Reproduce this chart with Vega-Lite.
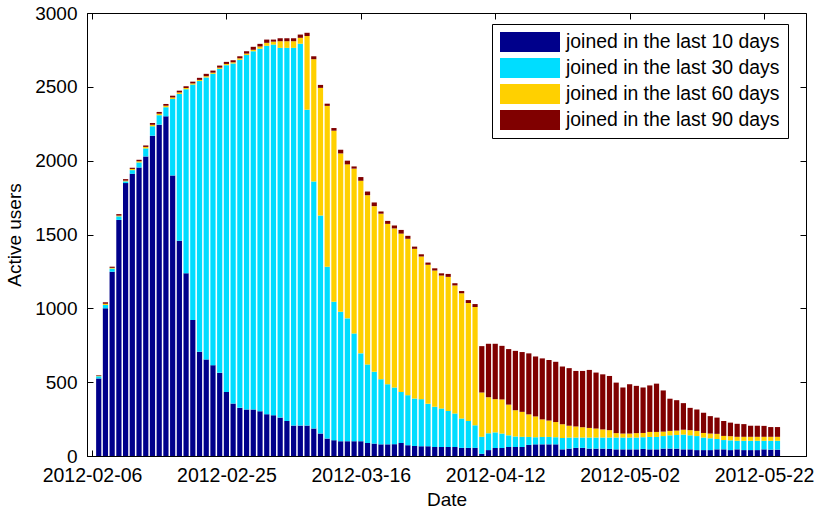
{
  "$schema": "https://vega.github.io/schema/vega-lite/v6.json",
  "autosize": "none",
  "width": 719,
  "height": 443,
  "padding": {"left": 87, "top": 13, "right": 14, "bottom": 57},
  "background": "white",
  "config": {
    "font": "Liberation Sans",
    "view": {"stroke": "black", "strokeWidth": 1},
    "axis": {
      "labelFontSize": 19, "titleFontSize": 19, "titleFontWeight": "normal",
      "labelColor": "black", "titleColor": "black", "domainColor": "black", "tickColor": "black",
      "grid": false, "tickSize": -6
    }
  },
  "data": {
    "values": [
      {"i":1,"a":525,"b":15,"c":3,"d":4},{"i":2,"a":1000,"b":23,"c":8,"d":10},{"i":3,"a":1248,"b":21,"c":5,"d":8},{"i":4,"a":1599,"b":24,"c":5,"d":10},
      {"i":5,"a":1848,"b":12,"c":5,"d":10},{"i":6,"a":1911,"b":25,"c":8,"d":8},{"i":7,"a":1954,"b":34,"c":8,"d":10},{"i":8,"a":2029,"b":54,"c":10,"d":10},
      {"i":9,"a":2169,"b":64,"c":10,"d":12},{"i":10,"a":2244,"b":64,"c":10,"d":12},{"i":11,"a":2300,"b":62,"c":10,"d":12},{"i":12,"a":1900,"b":518,"c":10,"d":12},
      {"i":13,"a":1457,"b":995,"c":10,"d":12},{"i":14,"a":1237,"b":1247,"c":8,"d":12},{"i":15,"a":921,"b":1594,"c":8,"d":12},{"i":16,"a":706,"b":1833,"c":8,"d":14},
      {"i":17,"a":654,"b":1910,"c":8,"d":16},{"i":18,"a":615,"b":1973,"c":8,"d":14},{"i":19,"a":563,"b":2059,"c":8,"d":14},{"i":20,"a":434,"b":2213,"c":8,"d":14},
      {"i":21,"a":355,"b":2303,"c":8,"d":14},{"i":22,"a":326,"b":2357,"c":10,"d":14},{"i":23,"a":315,"b":2400,"c":10,"d":16},{"i":24,"a":315,"b":2426,"c":10,"d":20},
      {"i":25,"a":303,"b":2455,"c":15,"d":18},{"i":26,"a":283,"b":2495,"c":20,"d":22},{"i":27,"a":276,"b":2510,"c":20,"d":14},{"i":28,"a":260,"b":2504,"c":45,"d":20},
      {"i":29,"a":237,"b":2527,"c":45,"d":20},{"i":30,"a":206,"b":2558,"c":45,"d":20},{"i":31,"a":206,"b":2586,"c":40,"d":22},{"i":32,"a":206,"b":2139,"c":499,"d":22},
      {"i":33,"a":186,"b":1673,"c":828,"d":20},{"i":34,"a":152,"b":1476,"c":865,"d":20},{"i":35,"a":118,"b":1164,"c":1089,"d":15},{"i":36,"a":107,"b":938,"c":1158,"d":18},
      {"i":37,"a":100,"b":877,"c":1072,"d":25},{"i":38,"a":100,"b":832,"c":1043,"d":25},{"i":39,"a":100,"b":730,"c":1116,"d":15},{"i":40,"a":100,"b":595,"c":1169,"d":25},
      {"i":41,"a":88,"b":532,"c":1146,"d":25},{"i":42,"a":84,"b":486,"c":1122,"d":25},{"i":43,"a":79,"b":441,"c":1121,"d":15},{"i":44,"a":79,"b":407,"c":1086,"d":20},
      {"i":45,"a":80,"b":384,"c":1077,"d":20},{"i":46,"a":88,"b":346,"c":1072,"d":25},{"i":47,"a":73,"b":339,"c":1059,"d":20},{"i":48,"a":68,"b":321,"c":1014,"d":15},
      {"i":49,"a":66,"b":319,"c":966,"d":15},{"i":50,"a":66,"b":287,"c":942,"d":15},{"i":51,"a":61,"b":272,"c":923,"d":15},{"i":52,"a":61,"b":261,"c":900,"d":15},
      {"i":53,"a":61,"b":244,"c":908,"d":20},{"i":54,"a":61,"b":227,"c":867,"d":15},{"i":55,"a":55,"b":199,"c":848,"d":15},{"i":56,"a":55,"b":182,"c":799,"d":20},
      {"i":57,"a":55,"b":153,"c":801,"d":20},{"i":58,"a":15,"b":115,"c":300,"d":314},{"i":59,"a":40,"b":114,"c":244,"d":362},{"i":60,"a":54,"b":106,"c":225,"d":375},
      {"i":61,"a":54,"b":98,"c":231,"d":363},{"i":62,"a":61,"b":79,"c":208,"d":376},{"i":63,"a":61,"b":71,"c":178,"d":402},{"i":64,"a":61,"b":69,"c":169,"d":405},
      {"i":65,"a":75,"b":54,"c":153,"d":413},{"i":66,"a":79,"b":48,"c":141,"d":406},{"i":67,"a":79,"b":50,"c":119,"d":413},{"i":68,"a":79,"b":50,"c":111,"d":410},
      {"i":69,"a":79,"b":48,"c":103,"d":408},{"i":70,"a":45,"b":77,"c":93,"d":391},{"i":71,"a":50,"b":75,"c":80,"d":390},{"i":72,"a":55,"b":70,"c":75,"d":376},
      {"i":73,"a":55,"b":70,"c":70,"d":381},{"i":74,"a":50,"b":75,"c":65,"d":393},{"i":75,"a":50,"b":75,"c":61,"d":379},{"i":76,"a":50,"b":75,"c":55,"d":373},
      {"i":77,"a":48,"b":77,"c":50,"d":367},{"i":78,"a":45,"b":80,"c":30,"d":342},{"i":79,"a":45,"b":80,"c":27,"d":312},{"i":80,"a":45,"b":80,"c":27,"d":334},
      {"i":81,"a":45,"b":80,"c":30,"d":320},{"i":82,"a":48,"b":79,"c":29,"d":308},{"i":83,"a":45,"b":84,"c":34,"d":315},{"i":84,"a":45,"b":84,"c":34,"d":327},
      {"i":85,"a":50,"b":85,"c":30,"d":279},{"i":86,"a":50,"b":90,"c":30,"d":218},{"i":87,"a":50,"b":92,"c":30,"d":206},{"i":88,"a":45,"b":100,"c":33,"d":180},
      {"i":89,"a":45,"b":95,"c":35,"d":151},{"i":90,"a":40,"b":95,"c":35,"d":145},{"i":91,"a":40,"b":85,"c":31,"d":137},{"i":92,"a":40,"b":80,"c":32,"d":118},
      {"i":93,"a":45,"b":70,"c":35,"d":110},{"i":94,"a":45,"b":63,"c":28,"d":101},{"i":95,"a":40,"b":66,"c":28,"d":92},{"i":96,"a":45,"b":58,"c":27,"d":88},
      {"i":97,"a":40,"b":63,"c":27,"d":86},{"i":98,"a":40,"b":63,"c":27,"d":75},{"i":99,"a":40,"b":63,"c":27,"d":75},{"i":100,"a":45,"b":58,"c":27,"d":74},
      {"i":101,"a":43,"b":60,"c":27,"d":66},{"i":102,"a":43,"b":60,"c":27,"d":66}
    ]
  },
  "transform": [{"fold": ["a", "b", "c", "d"], "as": ["group", "users"]}],
  "resolve": {"axis": {"x": "independent", "y": "independent"}},
  "layer": [
    {
      "mark": {"type": "bar", "size": 5.2},
      "encoding": {
        "x": {
          "field": "i", "type": "quantitative",
          "scale": {"domain": [0, 105.5], "nice": false, "zero": false},
          "axis": {
            "values": [0, 20, 40, 60, 80, 100],
            "labelExpr": "['2012-02-06','2012-02-25','2012-03-16','2012-04-12','2012-05-02','2012-05-22'][datum.value/20]",
            "labelFontSize": 19.5,
            "title": "Date", "titlePadding": 6, "labelPadding": 16
          }
        },
        "y": {
          "field": "users", "type": "quantitative", "stack": "zero",
          "scale": {"domain": [0, 3000], "nice": false},
          "axis": {
            "values": [0, 500, 1000, 1500, 2000, 2500, 3000], "format": "d",
            "title": "Active users", "titlePadding": 10, "labelPadding": 16,
            "encode": {"labels": {"update": {"dy": {"signal": "datum.value == 0 ? -5 : 0"}}}}
          }
        },
        "color": {
          "field": "group", "type": "nominal",
          "scale": {"domain": ["a", "b", "c", "d"], "range": ["#00008B", "#00DDFF", "#FFD000", "#800000"]},
          "legend": {
            "orient": "none", "legendX": 405, "legendY": 11, "title": null,
            "strokeColor": "black", "fillColor": "white", "padding": 8,
            "symbolType": "M-3,-1H3V1H-3Z", "symbolSize": 400, "symbolStrokeWidth": 0, "symbolOffset": 20,
            "labelFontSize": 19.4, "labelColor": "black", "labelOffset": 26, "rowPadding": 6, "labelLimit": 400,
            "labelExpr": "(datum.label=='a'?'joined in the last 10 days':datum.label=='b'?'joined in the last 30 days':datum.label=='c'?'joined in the last 60 days':'joined in the last 90 days') + '   '"
          }
        },
        "order": {"field": "group", "sort": "ascending"}
      }
    },
    {
      "mark": {"type": "point", "opacity": 0},
      "encoding": {
        "x": {
          "field": "i", "type": "quantitative",
          "axis": {"orient": "top", "values": [0, 20, 40, 60, 80, 100], "labels": false, "title": null, "domain": false}
        },
        "y": {
          "field": "users", "type": "quantitative",
          "axis": {"orient": "right", "values": [0, 500, 1000, 1500, 2000, 2500, 3000], "labels": false, "title": null, "domain": false}
        }
      }
    }
  ]
}
